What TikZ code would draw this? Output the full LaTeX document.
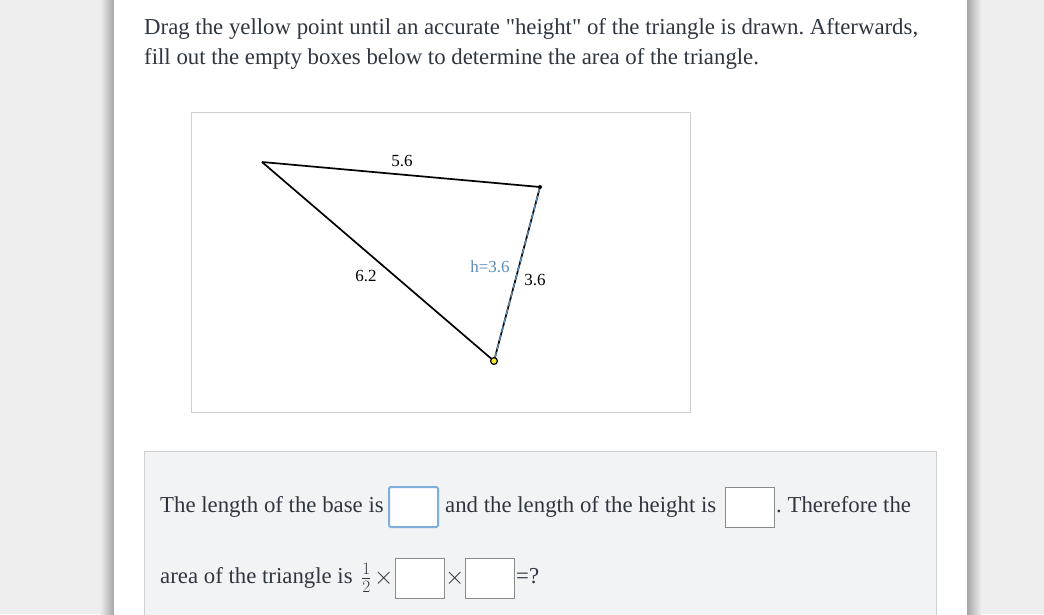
\documentclass[tikz,border=0pt]{standalone}
\usepackage{fontspec}
\setmainfont{Liberation Serif}
\usetikzlibrary{calc}
\frenchspacing
\definecolor{bggray}{HTML}{EEEEEE}
\definecolor{txt}{HTML}{2F3640}
\definecolor{panel}{HTML}{F2F3F5}
\definecolor{panelborder}{HTML}{CFCFCF}
\definecolor{hblue}{HTML}{5A8DB8}
\definecolor{boxblue}{HTML}{7FAEDB}
\definecolor{boxgray}{HTML}{8A8A8A}
\definecolor{ptyellow}{HTML}{F5E62A}
\tikzset{
  body/.style={anchor=base west, inner sep=0pt, text=txt, font=\fontsize{22.8}{26}\selectfont},
  timesop/.style={anchor=base west, inner sep=0pt, text=txt, font=\fontsize{28}{30}\selectfont},
  small/.style={inner sep=0pt, text=black, font=\fontsize{17}{19}\selectfont},
  edge/.style={draw=black, line width=1.7pt},
  ansbox/.style={draw=boxgray, fill=white, line width=0.9pt, minimum width=49pt, minimum height=40pt, inner sep=0pt},
  ansboxactive/.style={draw=boxblue, fill=white, line width=2pt, rounded corners=1.5pt, minimum width=49pt, minimum height=40pt, inner sep=0pt},
}
\begin{document}
\begin{tikzpicture}[x=1pt,y=-1pt]
\useasboundingbox (0,0) rectangle (1044,614);
% backdrop
\fill[bggray] (0,0) rectangle (1044,614);
\shade[left color=bggray, right color=black!35] (100,0) rectangle (114,614);
\shade[left color=black!35, right color=bggray] (967,0) rectangle (981,614);
\fill[white] (114,0) rectangle (967,614);
% instructions
\node[body] (l1) at (144,34) {Drag the yellow point until an accurate \textquotedbl height\textquotedbl{} of the triangle is drawn. Afterwards,};
\node[body] (l2) at (144,64) {fill out the empty boxes below to determine the area of the triangle.};
% graph frame
\draw[panelborder, line width=0.9pt] (191,112) rectangle (690,412);
% triangle
\coordinate (A) at (262,162);
\coordinate (B) at (540,187);
\coordinate (C) at (494,361);
\draw[edge] (A) -- (B);
\draw[edge] (A) -- (C);
\draw[edge] (B) -- (C);
\draw[hblue, line width=1.3pt, dash pattern=on 6pt off 3pt] (B) -- (C);
\fill[black] (B) circle (2pt);
\draw[black, fill=ptyellow, line width=1.2pt] (C) circle (3.4pt);
\node[small] (s1) at (402,161) {5.6};
\node[small] (s2) at (366,276) {6.2};
\node[small] (s3) at (535,280) {3.6};
\node[small, text=hblue] (h) at (490,267) {h=3.6};
% answer panel
\draw[panelborder, fill=panel, line width=0.9pt] (144,451) rectangle (936,630);
\node[body] (t1) at (160,512) {The length of the base is};
\node[ansboxactive] (b1) at (413.5,507) {};
\node[body] (t2) at (445,512) {and the length of the height is};
\node[ansbox] (b2) at (749.5,507) {};
\node[body] (t3) at (776,512) {. Therefore the};
\node[body] (t4) at (160,583) {area of the triangle is};
\node[anchor=base west, inner sep=0pt, text=txt, font=\fontsize{26}{28}\selectfont] (half) at (361,584) {$\frac{1}{2}$};
\node[timesop] (x1) at (374,584) {$\times$};
\node[ansbox] (b3) at (419.5,578) {};
\node[timesop] (x2) at (445,584) {$\times$};
\node[ansbox] (b4) at (489.5,578) {};
\node[body] (eq) at (516,583) {=?};
\end{tikzpicture}
\end{document}
